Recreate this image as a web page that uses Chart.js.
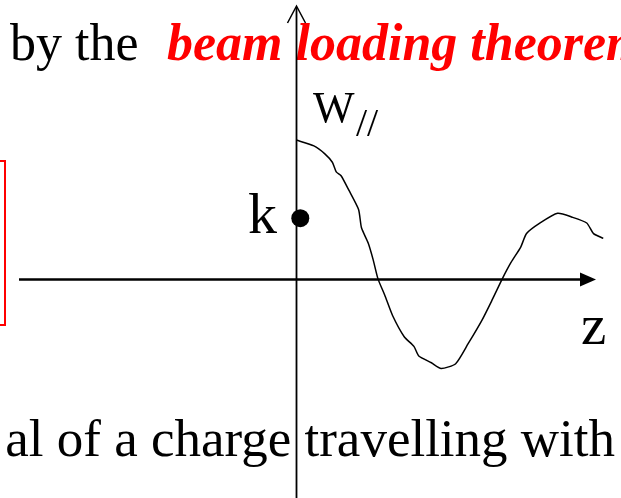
<!DOCTYPE html>
<html>
<head>
<meta charset="utf-8">
<script src="https://cdn.jsdelivr.net/npm/chart.js@4"></script>
<style>
  body { margin: 0; background: #fff; }
  canvas { display: block; }
  .preload { position: absolute; left: -9999px; top: 0; font-family: "Liberation Serif"; }
</style>
</head>
<body>
<span class="preload">k z <b><i>beam</i></b></span>
<canvas id="wake" width="621" height="498"></canvas>
<script>
// wake potential W// along z (arbitrary units)
const zVals = [0, 0.36, 0.58, 0.74, 0.82, 0.92, 1.08, 1.28, 1.34, 1.48, 1.58, 1.68, 1.82, 1.98, 2.22, 2.42, 2.52, 2.78, 2.98, 3.28, 3.54, 3.82, 4.02, 4.24, 4.42, 4.62, 4.74, 5.02, 5.38, 5.68, 5.98, 6.12, 6.32];
const wVals = [1.44, 1.38, 1.30, 1.21, 1.11, 1.07, 0.92, 0.72, 0.53, 0.37, 0.20, 0.0, -0.17, -0.38, -0.60, -0.70, -0.80, -0.87, -0.93, -0.88, -0.67, -0.43, -0.23, 0.0, 0.17, 0.33, 0.47, 0.58, 0.68, 0.64, 0.58, 0.47, 0.42];

// loss factor k, marked on the vertical axis
const kPoint = [{ x: 0.08, y: 0.63 }];

const labels = { top: 'by the ', topRed: 'beam loading theorem', bottom: 'al of a charge travelling with' };

const curve = zVals.map((z, i) => ({ x: z, y: wVals[i] }));

const serif = '"Liberation Serif"';

const drawing = {
  id: 'drawing',
  beforeDatasetsDraw(chart) {
    const ctx = chart.ctx;
    const xs = chart.scales.x, ys = chart.scales.y;
    const x0 = Math.round(xs.getPixelForValue(0)) + 0.5;
    const y0 = Math.round(ys.getPixelForValue(0)) + 0.5;
    ctx.save();

    // red box, mostly out of frame
    ctx.strokeStyle = '#ff0000';
    ctx.lineWidth = 2;
    ctx.strokeRect(-10, 161, 15, 164);

    // text
    ctx.textBaseline = 'alphabetic';
    ctx.fillStyle = '#000';
    ctx.font = '52px ' + serif;
    ctx.fillText(labels.top, 10, 60);
    ctx.fillStyle = '#ff0000';
    ctx.font = 'italic bold 52px ' + serif;
    ctx.fillText(labels.topRed, 167, 60);

    ctx.fillStyle = '#000';
    ctx.font = '53px ' + serif;
    const pre = ctx.measureText('al of a charge ').width;
    ctx.fillText(labels.bottom, x0 + 8 - pre, 456);

    ctx.font = '44px ' + serif;
    ctx.fillText('W', 313, 122);
    ctx.font = '40px ' + serif;
    ctx.fillText('//', 356, 136);
    ctx.font = '58px ' + serif;
    ctx.fillText('k', 248, 233);
    ctx.font = '57px ' + serif;
    ctx.fillText('z', 581, 344);

    // axes
    ctx.strokeStyle = '#000';
    ctx.lineWidth = 1.8;
    ctx.beginPath();
    ctx.moveTo(x0, 498);
    ctx.lineTo(x0, 7);
    ctx.stroke();
    ctx.lineWidth = 1.5;
    ctx.beginPath();
    ctx.moveTo(x0 - 9, 23);
    ctx.lineTo(x0, 6);
    ctx.lineTo(x0 + 9, 23);
    ctx.stroke();

    ctx.lineWidth = 2.5;
    ctx.beginPath();
    ctx.moveTo(19, y0);
    ctx.lineTo(582, y0);
    ctx.stroke();
    ctx.fillStyle = '#000';
    ctx.beginPath();
    ctx.moveTo(580, y0 - 7);
    ctx.lineTo(596, y0);
    ctx.lineTo(580, y0 + 7);
    ctx.closePath();
    ctx.fill();
    ctx.restore();
  }
};

function makeChart() {
  new Chart(document.getElementById('wake'), {
    type: 'scatter',
    data: {
      datasets: [{
        label: 'W//',
        data: curve,
        showLine: true,
        borderColor: '#000',
        borderWidth: 1.5,
        tension: 0.2,
        pointRadius: 0
      }, {
        label: 'k',
        data: kPoint,
        pointRadius: 9,
        pointBackgroundColor: '#000',
        pointBorderWidth: 0
      }]
    },
    options: {
      responsive: false,
      animation: false,
      devicePixelRatio: 1,
      layout: { padding: 0 },
      plugins: { legend: { display: false }, tooltip: { enabled: false } },
      scales: {
        x: { type: 'linear', display: false, min: -5.92, max: 6.5 },
        y: { type: 'linear', display: false, min: -2.18, max: 2.80 }
      }
    },
    plugins: [drawing]
  });
}

Promise.all([
  document.fonts.load('52px "Liberation Serif"'),
  document.fonts.load('italic bold 52px "Liberation Serif"')
]).then(makeChart, makeChart);
</script>
</body>
</html>
